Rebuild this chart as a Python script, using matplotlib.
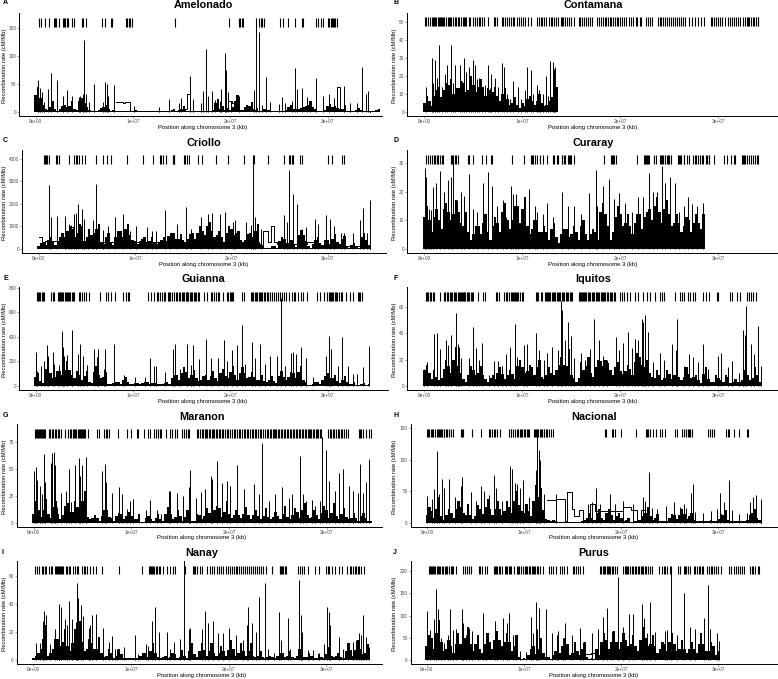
import numpy as np
import matplotlib
matplotlib.use("Agg")
import matplotlib.pyplot as plt

plt.rcParams['font.family'] = ['Liberation Sans', 'DejaVu Sans']

# positions are in Mb, rates in cM/Mb
A_rug = [0.3,0.5,1.0,1.4,1.9,2.0,2.1,2.4,2.8,2.9,3.0,3.2,3.3,3.7,3.9,4.8,4.9,5.2,6.8,7.1,7.7,7.8,9.3,9.4,9.6,9.7,9.9,14.3,19.9,20.9,21.0,21.2,21.3,22.6,23.0,23.2,23.3,23.5,25.1,25.4,25.9,26.6,27.4,27.5,28.8,29.0,29.3,29.5,30.0,30.1,30.4,30.5,30.6,30.7,30.8,31.0]
A_px = [5.0,22.6,22.9,17.5,19.5,19.6,23.7,26.6,33.5,28.8,1.6,2.2,0.2,0.25,0.4,0.6,0.85,1.25,2.8,3.2,3.7,4.4,4.6,4.9,5.2,5.5,6.0,6.9,7.1,7.3,7.4,8.05,10.1,12.7,13.7,14.9,14.7,15.9,16.2,17.0,17.2,17.7,18.1,18.4,18.9,19.0,19.8,20.1,20.9,22.4,23.3,24.1,25.0,25.3,25.6,26.3,26.9,27.4,27.9,28.2,29.5,30.1,30.7,31.7,32.3,33.0,33.9,34.2]
A_py = [129,168,144,113,106,75,63,78,80,61,69,57,50,57,43,36,17,41,29,39,29,27,28,32,31,18,50,18,53,50,28,48,10,8,23,24,16,64,23,15,38,28,37,21,19,40,35,19,28,39,12,17,14,27,15,20,40,43,27,10,28,32,25,47,15,15,32,38]
A_env = [30,25,5,8,5,5,12,10,5,20,15,3,2,3,8,5,3,1,1,1,2,1,1,1,1,1,1,2,3,2,5,1,1,1,1,1,1,15,5,3,3,20,2,8,10,3,1,5,3,2,2,2,8,5,5,8,12,8,2,2,10,8,7,5,1,1,3,3,1,1,3,0]
A_env2 = [45,12,3,20,2,10,8,20,3,25,8,2,1,6,12,2,1,1,1,1,3,1,1,1,1,1,2,1,5,3,10,1,1,1,1,1,3,22,10,6,8,30,3,12,18,6,1,3,2,1,1,3,12,4,6,10,20,5,1,3,14,10,4,12,1,1,6,1,1,2,4]
A_stepx = [8.3,9.0,9.2,9.7,15.3,15.6,15.9,19.8,20.2,20.4,21.5,21.9,22.3,31.0,31.3,34.4]
A_stepy = [18,15,18,1,5,31,1,19,15,3,8,5,1,45,1,0]

B_rug = [0.1,0.2,0.4,0.6,0.8,0.9,1.0,1.1,1.2,1.4,1.5,1.6,1.7,1.8,1.9,2.0,2.2,2.4,2.5,2.6,2.7,2.9,3.1,3.2,3.4,3.5,3.7,3.9,4.1,4.2,4.3,4.6,4.7,5.0,5.2,5.4,5.6,5.7,5.9,6.1,6.5,7.1,7.2,7.4,7.9,8.0,8.2,8.4,8.6,8.8,9.0,9.2,9.5,9.7,9.9,10.1,10.3,10.6,10.9,11.5,11.7,11.9,12.0,12.2,12.4,12.7,12.9,13.0,13.2,13.4,13.6,13.9,14.1,14.2,14.4,14.6,14.8,15.0,15.3,15.8,15.9,16.1,16.3,16.5,16.7,16.9,17.1,17.6,17.8,18.0,18.2,18.4,18.5,18.7,18.9,19.1,19.3,19.5,19.7,19.8,20.0,20.2,20.4,20.6,20.9,21.1,21.3,21.6,21.7,22.0,22.1,22.6,22.8,23.0,23.2,23.8,24.0,24.2,24.4,24.6,24.8,25.0,25.2,25.4,25.6,25.8,26.0,26.2,26.4,26.6,27.0,27.3,27.6,27.9,28.2,28.5,29.3,29.4,29.6,29.8,30.0,30.2,30.4,30.7,31.0,31.2,31.4,31.6,31.8,32.0,32.2,32.5,32.7,32.9,33.0,33.1,33.3,33.5,33.6,33.8,34.0,34.1]
B_px = [0.15,0.8,1.1,1.55,2.1,2.35,2.7,3.15,3.6,4.05,4.55,5.0,5.2,5.6,6.45,6.85,7.25,7.95,8.1,9.1,9.55,10.5,10.85,11.45,11.85,12.4,12.8,13.1,13.3,0.9,1.3,1.8,2.95,3.8,4.25,4.75,5.4,5.9,6.15,6.7,7.55,8.4,8.75,9.9,10.25,11.1,11.7,12.1,12.6,13.2]
B_py = [14,30,29,37,21,26,37,26,26,30,25,29,26,19,26,21,19,27,25,17,14,25,23,15,8,20,28,27.5,25,16,19,14,16,17,22,20,18,13,15,13,14,10,7,7,12,10,12,10,9,24]
B_env = [5,6,9,14,12,15,10,13,16,12,15,14,14,13,11,9,10,7,5,4,5,7,6,6,5,4,8,14]
B_env2 = [9,3,12,8,16,18,13,17,11,20,11,18,9,12,14,6,13,4,8,2,3,9,4,10,3,6,16]

C_rug = [0.6,0.7,0.8,0.9,1.1,1.8,1.9,2.1,3.1,3.7,3.9,4.0,4.2,4.5,4.8,5.9,6.7,7.1,7.5,9.2,10.8,11.9,12.6,12.7,12.9,13.2,13.9,14.0,14.1,15.1,15.2,15.4,15.6,16.5,17.0,18.4,19.7,21.3,22.3,22.4,23.8,25.5,26.0,26.1,26.3,26.4,27.1,27.3,30.0,30.5,31.5,31.7]
C_px = [22.3,26.0,1.1,5.95,5.9,26.4,26.8,34.4,33.7,4.1,4.5,15.3,13.1,1.25,1.9,2.7,3.65,3.9,4.7,5.6,7.2,7.9,8.8,10.15,11.2,12.2,14.4,15.8,16.85,17.55,17.95,18.8,19.35,20.2,20.4,21.5,22.0,22.25,22.45,23.05,25.5,25.8,27.3,27.75,28.65,29.0,29.8,30.3,30.65,31.35,31.7,32.6,33.4,34.05,3.1,3.4,5.15,6.7,9.5,11.75,13.6]
C_py = [3770,3500,2830,2880,2150,2430,2000,2180,1820,2000,1780,1880,1730,1400,1470,1470,1550,1600,1330,1280,1030,1400,1560,1020,950,780,1080,900,1400,1530,1570,1550,1650,1200,1280,1180,1050,1680,1420,880,1500,1180,900,950,1310,1120,1500,1320,1000,700,680,700,1270,680,1100,1050,800,820,800,800,700]
C_env = [100,300,400,350,300,700,800,900,700,1000,500,600,900,300,500,300,500,800,900,600,350,350,500,350,300,300,500,550,700,450,400,450,700,700,800,1000,800,600,500,700,900,700,400,400,700,800,200,30,30,100,350,450,250,150,600,600,100,200,500,150,400,450,300,450,100,150,100,500,400,0]
C_env2 = [250,150,500,150,500,500,1000,500,1100,350,900,700,1100,200,700,150,800,500,1100,400,200,450,300,500,200,400,350,700,450,650,250,650,450,1000,600,1200,500,800,300,1000,600,800,250,650,500,1100,100,10,100,50,500,250,400,80,850,350,50,400,250,400,200,650,200,550,50,250,50,700,150]
C_stepx = [0.0,0.35,0.7,2.5,3.3,3.6,22.9,23.3,23.8,24.1,24.4,24.7,27.9,29.0,34.4]
C_stepy = [500,150,350,250,950,300,150,780,300,1030,300,200,280,100,0]

D_rug = [0.2,0.4,0.6,0.8,0.95,1.1,1.25,1.4,1.65,1.8,1.95,2.7,2.8,2.95,3.1,3.25,3.45,4.45,4.6,4.95,5.9,6.25,6.8,6.9,8.9,10.2,10.85,10.95,11.05,11.25,11.45,11.85,12.15,12.5,13.1,13.25,13.5,13.65,14.0,14.1,14.25,14.4,14.7,14.8,14.9,15.0,15.3,18.35,19.05,19.15,19.3,19.4,19.55,21.75,22.4,22.5,22.6,22.7,22.85,22.95,23.45,23.65,24.05,24.15,24.25,24.4,24.6,24.75,24.85,25.0,25.15,25.85,25.95,26.1,26.2,26.45,26.55,26.85,27.05,27.45,27.6,27.7,27.95,28.15,28.35,28.45,28.7,28.8,29.0,29.1,29.6,30.6,30.9,31.25,31.6,31.7,32.4,32.5,32.6,32.75,32.95,33.1,33.35,33.55,33.75,33.9,34.05]
D_px = [0.05,0.2,0.5,0.7,0.9,1.2,1.6,2.0,2.4,2.7,2.95,3.3,3.7,4.0,4.55,5.0,5.4,6.0,6.45,6.95,7.45,8.0,8.3,8.8,9.0,9.35,9.6,10.0,10.7,11.25,11.5,12.1,12.55,13.15,14.1,14.7,15.3,15.95,16.8,17.5,17.65,18.25,18.8,19.35,19.85,20.5,21.15,21.85,22.35,22.95,23.35,23.7,24.3,24.55,25.05,25.55,26.0,26.45,26.95,27.3,27.8,28.45]
D_py = [28.2,25,14,13.5,21.5,23,27.2,20,24,25,30,17,20,18.5,26,14,13,23,26.8,22,15,17,11,22,19,19,15,14,21,15,13,12,16,11,20,15,15,12,19.5,27.5,15,22,24.5,17.5,19.5,16,13,18,18,26.5,20,20,29,23,25,23,13,15,18,15.5,15,16]
D_env = [11,10,11,10,14,13,12,13,8,6,5,8,9,6,8,9,13,10,10,15,14,8,7,10,6,6,7,4,5,7,5,6,8,5,5,6,13,12,3,11,12,9,8,9,12,11,14,15,13,14,12,9,9,8,10,9,9,12]
D_env2 = [15,6,14,7,16,10,17,9,13,3,8,5,12,3,11,6,16,7,15,9,18,5,10,6,8,3,9,2,7,4,8,3,10,3,7,3,16,8,6,15,8,12,5,12,7,13,10,18,9,17,8,12,6,11,6,12,7]

E_rug = [0.1,0.2,0.3,0.45,0.6,0.75,0.85,1.6,1.75,1.9,2.25,2.35,2.5,2.65,2.75,2.85,3.0,3.1,3.25,3.35,3.45,3.55,3.7,3.8,3.95,4.4,4.6,4.8,5.0,5.2,5.45,6.65,7.2,7.4,7.7,8.2,9.0,9.3,9.45,9.6,11.5,11.9,12.2,12.45,12.6,12.75,13.0,13.15,13.3,13.55,13.7,13.85,14.05,14.2,14.4,14.55,14.7,14.85,15.0,15.1,15.2,15.4,15.5,15.6,15.7,15.9,16.0,16.1,16.3,16.4,16.5,16.65,16.75,17.25,17.6,18.0,18.15,18.3,18.5,18.7,18.85,19.3,19.7,19.8,19.95,20.05,20.15,20.3,21.2,21.4,22.1,22.2,22.35,22.5,22.6,22.75,22.9,23.05,23.15,23.3,23.45,23.6,23.75,23.9,24.05,24.3,24.5,24.7,24.9,25.1,25.3,25.5,25.7,26.0,26.3,26.5,26.7,27.0,27.3,27.5,27.9,28.9,29.2,29.6,29.9,30.1,30.2,30.35,30.5,30.6,30.75,30.9,31.0,31.2,31.4,31.5,31.9,32.3,32.6,33.1,33.2,33.3,33.55]
E_px = [0.05,0.15,0.5,0.9,1.15,1.3,1.75,1.9,2.35,2.7,2.8,2.95,3.2,3.7,3.75,4.35,4.55,4.9,5.3,6.0,6.25,6.45,7.0,7.15,8.0,9.1,10.2,11.25,11.75,12.15,12.35,13.3,14.1,14.35,14.85,15.5,16.0,16.2,16.8,17.5,18.0,18.75,19.35,19.7,20.2,20.65,21.25,21.5,22.25,22.5,23.1,23.55,24.1,24.75,25.25,25.6,26.2,26.4,26.8,27.3,27.75,28.5,29.8,30.15,30.3,31.1,31.45,32.1,32.65,33.05,33.65,34.3]
E_py = [280,120,160,200,335,240,280,180,170,450,320,240,250,455,380,260,340,240,170,300,235,300,140,300,340,85,70,75,230,160,160,110,300,345,140,345,170,330,220,385,230,225,375,200,290,330,500,180,355,230,345,180,240,240,720,160,265,280,260,320,230,75,240,410,300,160,395,160,95,95,150,325]
E_env = [70,40,140,100,70,120,130,130,60,90,80,30,110,90,70,15,20,30,50,30,10,20,20,30,20,15,10,30,60,90,100,110,90,60,50,90,80,60,100,80,110,90,100,100,70,70,50,40,50,40,80,70,70,100,110,50,5,10,30,50,100,60,40,50,30,15,5,10,5,0]
E_env2 = [100,25,190,60,120,90,200,90,120,50,120,20,160,60,110,10,30,15,70,15,20,15,30,15,25,10,20,15,90,50,150,60,130,40,80,50,120,40,140,60,160,50,150,60,110,50,90,30,80,20,120,50,110,60,160,30,2,30,15,80,60,90,25,80,15,30,3,25,10]

F_rug = [0.2,0.3,0.4,0.55,0.7,0.85,1.0,1.6,2.0,2.15,2.3,2.45,2.6,2.7,2.85,3.0,3.15,3.25,3.4,3.5,3.6,3.7,3.8,3.9,4.0,4.1,4.2,4.35,4.45,4.6,4.75,4.9,5.0,5.45,6.0,6.2,7.3,7.45,7.6,8.1,8.3,8.45,8.6,8.8,8.9,9.0,9.15,9.25,9.4,9.5,9.6,9.8,10.0,10.1,11.4,11.5,11.6,11.9,12.05,12.3,12.4,12.5,12.6,12.7,12.85,13.0,13.1,13.25,13.35,13.5,13.6,13.7,13.85,14.0,14.15,14.3,14.45,14.6,14.7,14.85,15.0,15.1,15.75,15.85,16.0,16.1,16.2,16.3,16.4,16.55,16.7,16.8,16.95,17.1,17.2,17.35,17.5,17.6,17.7,17.85,18.0,18.1,18.2,18.3,18.45,18.6,18.75,18.9,19.05,19.2,19.35,19.5,20.0,20.2,20.4,20.7,21.0,21.5,21.85,22.35,22.7,23.05,23.55,24.1,24.3,24.5,25.6,26.1,26.3,26.45,26.95,27.15,27.4,27.6,28.45,28.75,29.1,29.85,29.95,31.2,31.4,31.9,32.2,32.9,33.1,33.3,33.55,33.85]
F_px = [0.0,0.3,1.0,1.3,1.65,2.2,2.45,2.7,3.25,3.4,3.55,3.7,4.55,4.95,5.3,5.6,5.9,6.65,7.1,7.55,7.9,8.35,8.75,9.3,9.45,10.15,10.45,11.35,11.7,12.2,12.55,13.05,13.65,13.9,14.0,14.4,14.7,14.95,15.25,15.95,16.4,16.9,17.3,17.8,18.25,18.65,19.6,19.9,20.3,20.8,21.2,21.55,21.8,22.2,22.35,22.55,22.85,23.35,24.1,24.45,25.25,25.75,25.65,26.45,27.0,27.45,27.95,28.45,28.95,30.0,30.25,31.0,31.35,32.15,32.55,32.75,32.85,33.35,33.65,34.0,34.35]
F_py = [13,18,39.5,40,28,35,31,39,56,32,30,21,21,45,29,20,33,8,19,19,15,24,30,47,22,31,32,40,27,20,25,30,27,65,58,35,49,38,21,25,20,28,51,35,23,20,37,27,33,41,29,36,35,51,49,54,41,18,25,20,32,51,27,15,24,22,18,32,13,23,25,14,19,10,43,39,61,32,24,46,15]
F_env = [12,10,12,4,13,15,20,15,5,8,12,10,8,3,8,10,9,8,9,15,14,11,14,14,7,8,10,12,22,15,8,3,18,15,10,14,19,20,12,14,11,11,13,18,22,14,10,6,8,6,9,8,7,7,9,7,4,9,5,3,6,3,7,3,3,4,8,6,8,0]
F_env2 = [16,5,7,6,20,10,30,10,3,15,8,15,5,6,5,14,5,12,5,20,10,16,8,20,5,14,8,16,16,28,6,6,12,22,7,20,15,17,8,18,9,16,8,25,16,20,7,12,4,12,5,13,4,14,6,8,2,14,3,8,4,8,2,5,3,12,4,14,3]

G_rug = [0.15,0.25,0.35,0.45,0.55,0.65,0.75,0.85,0.95,1.05,1.2,1.6,1.7,1.85,2.0,2.15,2.3,2.45,2.55,2.75,3.25,3.55,3.7,3.85,4.0,4.1,4.25,4.35,4.5,4.6,4.7,4.8,4.9,5.05,5.15,5.3,5.55,6.5,6.7,7.2,7.35,7.5,7.7,8.65,9.5,10.0,10.55,10.7,11.3,11.65,11.9,12.35,12.55,12.7,12.9,13.05,13.55,13.95,14.2,14.5,14.7,15.15,15.35,15.6,15.75,15.85,16.7,16.85,17.0,17.2,17.35,17.5,17.6,17.75,17.9,18.05,18.2,18.35,18.5,18.65,18.8,18.95,19.1,19.25,19.4,19.6,19.75,19.9,20.1,20.3,20.5,20.65,20.8,21.0,21.15,21.3,21.5,21.65,21.8,21.95,22.1,22.3,22.45,22.6,22.8,23.0,23.15,23.3,23.5,23.65,23.85,24.0,24.15,24.3,24.45,24.6,24.7,24.85,25.0,25.15,25.3,25.45,25.6,25.75,25.9,26.05,26.2,26.35,26.5,26.65,26.8,27.0,27.15,27.3,27.45,27.6,27.8,27.9,28.05,28.2,28.3,28.4,28.55,28.7,28.85,29.0,29.15,29.3,29.45,30.15,30.3,30.4,30.6,30.75,30.9,31.1,31.25,31.45,31.6,31.8,31.95,32.2,33.25,33.4,33.55,33.7,34.05,34.3,34.5]
G_px = [0.0,0.2,0.3,0.6,0.8,1.05,1.2,1.8,1.9,2.1,2.15,2.4,2.8,3.3,3.6,3.85,4.25,4.6,4.75,4.95,5.4,6.95,7.25,7.4,8.0,8.75,9.05,9.5,9.85,10.15,10.8,11.45,11.9,12.6,13.0,13.8,14.0,14.7,15.25,15.85,16.0,16.65,17.15,17.55,18.1,18.25,18.8,19.3,19.75,20.1,20.8,21.5,22.5,23.05,23.4,24.05,24.65,25.4,26.1,26.4,27.3,27.55,27.9,28.5,28.8,29.3,29.55,29.9,30.2,30.85,31.2,31.7,32.3,32.65,33.15,33.4,33.7,34.05,34.35]
G_py = [48,52,40,34,27,64,38,56,65,66,54,15,28,30,50,19,54,60,44,54,61,48,55,38,28,33,27,13,20,22,6,12,21,12,8,30,30,28,25,33,49,23,29,31,44,41,58,37,39,34,54,31,36,27,74,20,27,33,23,27,62,27,20,21,16,20,80,68,39,30,46,50,34,30,28,55,28,38,59]
G_env = [8,12,12,8,15,8,7,18,10,15,20,5,4,4,6,12,4,6,8,6,6,3,1,4,3,4,3,8,8,5,6,5,3,2,7,6,9,12,14,10,8,7,7,8,7,7,6,6,5,5,6,8,5,7,10,12,7,5,7,9,12,9,6,8,5,4,4,6,4,2]
G_env2 = [20,5,22,4,20,3,16,10,20,8,30,3,7,2,12,5,2,9,3,10,3,8,1,6,2,8,2,15,3,12,2,12,2,8,3,14,4,16,5,20,4,12,4,15,3,12,3,14,3,10,3,16,3,14,4,18,4,12,3,16,4,18,3,14,3,9,2,9,2]

H_rug = [0.05,0.15,0.25,0.4,0.55,0.65,0.8,1.0,1.1,1.2,1.35,1.45,1.55,1.7,1.8,1.95,2.1,2.3,2.45,2.65,3.5,3.65,3.75,4.6,5.55,6.4,6.5,6.65,6.85,7.0,7.25,7.5,8.45,8.6,8.7,8.9,9.05,9.25,9.35,9.55,9.65,9.8,9.95,10.1,10.25,10.45,10.55,11.0,11.1,11.2,11.3,11.45,11.6,11.7,11.85,12.0,12.1,12.25,12.4,12.6,12.75,12.95,18.3,18.4,19.05,19.2,19.35,20.0,21.5,22.6,22.7,22.8,22.95,23.3,23.55,23.95,24.2,24.5,25.5,25.7,26.3,26.5,26.7,26.85,27.0,27.1,27.25,28.95,29.1,29.35,29.6,30.75,30.95,31.15,31.6,32.1,33.0,33.1]
H_px = [0.0,0.5,0.7,1.0,1.02,1.25,1.55,1.8,2.25,2.9,3.6,3.55,4.55,5.0,5.6,5.85,6.4,6.9,7.1,7.75,8.5,8.8,9.05,9.25,9.55,9.85,10.5,11.3,11.5,11.6,11.2,12.0,13.25,16.1,16.55,17.0,17.45,17.8,18.85,19.4,20.15,21.25,22.2,22.45,22.9,23.2,23.65,24.65,25.4,26.05,26.45,26.7,27.15,27.4,27.65,28.45,29.25,29.9,30.2,30.6,31.1,31.45,32.15,33.0,33.25,33.6,33.85,34.35]
H_py = [42,38,53,73,114,45,70,55,69,40,72,58,49,35,58,50,44,76,55,35,90,85,63,62,55,68,40,137,115,100,83,45,45,18,30,33,55,30,45,30,35,30,40,34,80,23,22,26,32,25,30,24,47,62,17,15,19,22,47,33,67,20,13,15,33,40,44,37]
H_env = [12,18,22,10,12,15,22,25,12,12,10,22,25,22,22,22,18,25,35,28,15,18,35,40,20,5,4,1,1,1,1,1,2,8,8,15,8,15,12,10,8,5,1,2,5,15,10,8,3,1,8,12,12,14,10,5,1,1,2,1,6,12,5,2,1,0.5,5,15,8,0]
H_env2 = [25,8,40,5,22,8,35,15,30,6,28,14,38,12,35,12,35,15,50,18,30,10,60,55,6,2,3,1,1,1,1,1,3,15,4,22,4,22,4,15,3,8,1,4,10,25,5,14,1,3,14,6,22,6,15,2,1,1,4,3,14,20,2,1,1,1,12,22,4]
H_stepx = [12.4,13.3,13.9,14.2,14.4,14.9,15.1,15.7,16.1,16.8,17.3,20.2,21.0,21.6,22.0,22.4,34.4]
H_stepy = [36,37,38,2,49,21,10,20,5,30,18,25,20,2,20,2,0]

I_rug = [0.15,0.35,0.6,0.85,1.0,1.2,1.35,1.6,1.8,1.95,2.25,2.35,2.45,2.55,2.65,2.7,2.8,2.9,3.0,3.35,3.5,3.65,3.8,4.1,4.25,4.45,4.6,4.95,5.15,5.3,5.5,5.8,6.15,6.4,7.0,8.8,11.15,11.8,11.95,12.05,12.15,12.25,12.4,12.55,12.7,12.85,13.0,13.3,13.65,14.0,14.3,14.55,15.5,16.3,16.45,16.6,16.8,17.05,17.3,17.75,18.1,18.3,18.45,18.8,19.0,19.2,19.45,19.7,19.95,20.1,20.3,20.5,20.75,20.9,21.1,21.3,21.5,21.7,21.9,22.05,22.3,22.45,22.7,22.9,23.1,23.35,23.5,23.8,24.4,25.2,25.3,25.4,25.5,25.6,25.75,25.85,27.05,27.3,27.55,27.7,28.1,28.85,29.2,30.0,30.15,30.3,30.55,30.85,31.3,31.6,32.15,32.4,32.55,32.7,32.9,33.05,33.2,33.35,33.5,33.8]
I_px = [0.25,0.7,1.1,1.0,1.3,1.75,2.2,2.4,2.6,2.65,2.85,3.2,3.4,3.65,4.0,4.35,4.5,4.6,4.85,5.1,5.75,5.85,6.0,6.4,7.15,7.7,8.05,8.35,8.6,9.3,10.45,10.7,11.5,11.7,12.15,12.5,12.85,13.65,13.95,14.4,15.0,15.45,15.95,16.05,17.25,17.55,17.9,18.35,18.95,19.4,20.0,20.75,21.5,22.0,22.4,21.85,23.15,22.75,23.75,24.0,24.6,25.15,25.4,26.05,26.3,27.15,27.35,27.55,28.15,28.6,29.2,29.75,30.05,30.25,30.35,31.3,31.75,32.25,32.7,33.05,33.3,33.55,33.75,34.05,34.4]
I_py = [12,12,35,28,32,11,22,15,34,40,38,29,25,42,29,27,55,44,39,31,23,25,32,33,23,13,17,8,8,9,17.5,4,11,10,28,38,20,20,8,13,15,84,22,22.5,22,35,26,28,19,19,23,18,14,38,26,25,45,20,55,8,5,34,14,30,8,57,32,20,7,7,5,11,38,34,25,16,8,12,13,14,19,18,32,16,9]
I_env = [1,5,15,3,8,15,13,10,12,18,13,8,12,8,5,3,5,3,4,1,1,1,3,5,6,5,1,3,2,4,2,3,6,4,6,7,6,5,5,6,7,8,5,6,6,3,3,2,2,2,3,5,3,2,3,4,2,3,1,2,4,3,3,2,6,7,7,8,5,0]
I_env2 = [3,8,25,5,15,10,22,6,22,28,6,15,8,16,2,8,1,8,1,1,1,1,5,2,12,2,2,1,5,1,7,1,12,2,12,3,12,3,10,3,14,3,12,3,12,2,6,1,3,1,5,2,6,1,8,2,5,1,4,1,9,2,5,1,12,3,14,4,11]

J_rug = [0.25,0.3,0.4,0.5,0.6,0.7,0.9,1.05,1.15,1.25,1.4,1.55,1.7,1.85,2.0,2.1,2.3,2.45,2.6,2.75,3.0,3.75,3.9,4.1,4.4,4.6,5.35,5.5,5.65,6.0,6.25,6.95,7.05,7.15,7.25,7.4,7.5,7.7,8.05,8.2,8.3,8.45,8.6,8.7,8.95,9.25,9.35,9.5,9.75,9.95,10.1,10.2,10.35,10.5,10.65,10.8,10.9,11.05,11.15,11.3,11.5,11.7,12.0,12.6,12.8,13.0,13.3,13.7,13.9,14.1,14.4,15.0,15.15,15.35,15.55,15.8,16.05,17.85,17.95,18.1,18.2,18.35,18.5,18.65,18.75,18.9,19.05,19.2,19.4,19.6,20.2,20.35,20.5,20.6,20.75,20.95,21.1,21.25,21.4,21.55,21.75,21.85,22.0,22.2,22.3,22.45,22.6,22.8,23.0,23.2,23.95,24.2,24.4,24.55,24.75,25.0,25.15,25.85,26.1,26.45,26.6,26.7,26.85,27.05,27.5,27.65,27.8,28.0,28.15,28.3,28.45,28.8,29.0,29.2,29.35,29.55,29.75,29.95,30.3,31.1,31.3,31.6,31.8,32.0,32.2,32.4,32.6,33.3,33.45,33.6,33.8,34.05,34.2]
J_px = [0.05,0.3,0.8,1.0,1.15,1.45,1.8,2.2,2.35,2.75,3.0,3.6,3.7,4.05,4.35,4.65,5.25,5.75,6.15,7.0,7.2,7.8,8.3,8.5,8.9,9.15,9.55,10.2,10.7,10.9,11.2,11.3,11.6,12.25,12.85,13.4,13.55,14.25,14.0,14.9,15.75,16.1,17.0,17.65,18.1,18.6,19.05,19.65,20.2,20.8,21.25,22.2,22.4,22.7,23.0,23.5,24.5,25.15,24.75,26.5,25.75,27.05,27.6,28.55,28.9,29.15,29.9,30.1]
J_py = [110,68,92,160,114,50,38,55,114,68,70,115,82,56,72,65,54,105,60,88,55,95,82,105,57,56,20,18,97,60,130,70,117,115,60,55,65,83,50,55,72,40,60,70,97,118,66,186,75,104,103,125,95,60,130,62,65,205,68,150,55,73,70,95,170,70,60,42]
J_env = [30,50,60,40,25,30,35,35,50,35,35,25,35,40,45,45,40,40,30,5,3,10,30,25,15,5,10,30,30,35,15,20,25,5,3,25,40,45,40,40,40,45,35,30,45,50,35,30,25,35,40,35,25,25,25,25,35,35,20,30,20]
J_env2 = [55,25,90,20,45,15,60,20,75,20,55,15,60,25,65,30,60,20,55,2,1,25,12,50,5,2,20,15,50,10,40,10,40,2,1,10,60,25,65,25,60,30,55,20,75,30,55,15,40,20,60,20,45,15,40,15,60,20,40,10]
J_stepx = [16.4,16.9,17.3]
J_stepy = [14,16,3]

names = ["Amelonado","Contamana","Criollo","Curaray","Guianna","Iquitos","Maranon","Nacional","Nanay","Purus"]
letters = list("ABCDEFGHIJ")
xtick_vals = [0, 1e7, 2e7, 3e7]
xtick_labels = ["0e+00", "1e+07", "2e+07", "3e+07"]

W, H = 778, 679
fig = plt.figure(figsize=(W/100, H/100), dpi=100)

# layout in pixels: left, right, top, bottom, x0 px, px per Mb, y0 px, px per unit, yticks, rug lo, rug hi
layout = {
 "A": (19.3,382,13,116.3,35.7,9.73,111.7,83.4/150,[0,50,100,150],153,168),
 "B": (407,777,13,116.3,424.3,9.8,111.7,90/50,[0,10,20,30,40,50],47.5,52.5),
 "C": (22.3,386,150,253,38.7,9.63,248.7,89.7/4000,[0,1000,2000,3000,4000],3770,4190),
 "D": (407,777,150,253,424.3,9.8,248.7,85.7/30,[0,10,20,30],29.5,32.8),
 "E": (19.3,388,287,390.3,35.7,9.73,385.7,97.7/800,[0,200,400,600,800],693,765),
 "F": (407,777,287,390.3,424.3,9.8,385.7,78.4/60,[0,20,40,60],64.8,71.4),
 "G": (16.7,382,424,527.3,33.7,9.77,522.7,80.4/75,[0,25,50,75],79.4,87.5),
 "H": (410.7,777,424,527.3,427,9.71,522.7,94.7/150,[0,50,100,150],135,148),
 "I": (16.7,382,560.7,664.3,33.3,9.77,659.7,84/60,[0,20,40,60],61,67),
 "J": (410.7,777,560.7,664.3,426.7,9.72,659.7,88.4/200,[0,50,100,150,200],193,212),
}
title_pos = {"A":(203,5),"B":(593,5),"C":(204,142),"D":(593,142),"E":(203,279),"F":(593,279),"G":(202,416),"H":(594,416),"I":(202,553),"J":(594,553)}
letter_pos = {"A":(3,2),"B":(393,2),"C":(3,140),"D":(393,140),"E":(3,277),"F":(393,277),"G":(3,414),"H":(393,414),"I":(1,551),"J":(393,551)}
xlabel_y = {"A":128,"B":128,"C":265,"D":265,"E":402,"F":402,"G":538,"H":538,"I":676,"J":676}
ylabel_x = {"A":4.5,"B":394.5,"C":4.5,"D":394.5,"E":4.5,"F":394.5,"G":4.5,"H":394.5,"I":4.5,"J":394.5}

data = {k: {n: globals().get(f"{k}_{n}") for n in ["rug","px","py","env","env2","stepx","stepy"]} for k in letters}

for k, name in zip(letters, names):
    l, r, t, b, x0, xs, y0, ys, yt, rlo, rhi = layout[k]
    ax = fig.add_axes([l/W, 1-b/H, (r-l)/W, (b-t)/H])
    ax.set_xlim(((l-x0)/xs)*1e6, ((r-x0)/xs)*1e6)
    ax.set_ylim((y0-b)/ys, (y0-t)/ys)
    d = data[k]
    env = np.array(d["env"], float)
    env2 = np.array(d["env2"], float)
    ax.bar(np.arange(len(env))*0.5*1e6, env, width=0.27e6, color="black", lw=0)
    ax.bar((np.arange(len(env2))*0.5+0.25)*1e6, env2, width=0.23e6, color="black", lw=0)
    ax.vlines(np.array(d["px"])*1e6, 0, d["py"], color="black", lw=0.7)
    if d["stepx"] is not None:
        ax.step(np.array(d["stepx"])*1e6, d["stepy"], where="post", color="black", lw=0.7)
    ax.vlines(np.array(d["rug"])*1e6, rlo, rhi, color="black", lw=0.8)
    for s in ["top","right"]:
        ax.spines[s].set_visible(False)
    for s in ["left","bottom"]:
        ax.spines[s].set_linewidth(0.7)
    ax.set_xticks(xtick_vals, xtick_labels)
    ax.set_yticks(yt)
    ax.tick_params(labelsize=3.4, length=1.2, width=0.4, pad=1, colors="#4d4d4d")
    fig.text(title_pos[k][0]/W, 1-(title_pos[k][1]+0.5)/H, name, ha="center", va="center", fontsize=7.8, fontweight="bold")
    fig.text(letter_pos[k][0]/W, 1-(letter_pos[k][1]+1)/H, k, ha="left", va="center", fontsize=5, fontweight="bold")
    fig.text(title_pos[k][0]/W, 1-xlabel_y[k]/H, "Position along chromosome 3 (kb)", ha="center", va="center", fontsize=4.2)
    fig.text(ylabel_x[k]/W, 1-((t+b)/2+1)/H, "Recombination rate (cM/Mb)", rotation=90, ha="center", va="center", fontsize=4.2)

fig.savefig("out.png", dpi=100)
